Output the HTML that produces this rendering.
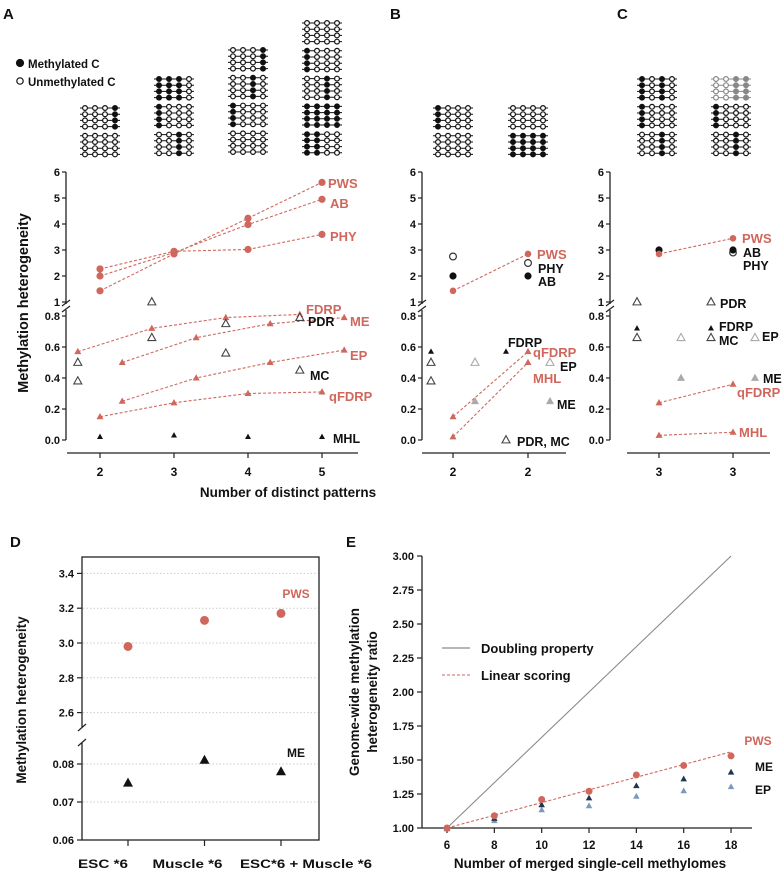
<!DOCTYPE html>
<html><head><meta charset="utf-8"><style>
html,body{margin:0;padding:0;background:#fff;}
svg{display:block;font-family:"Liberation Sans",Arial,sans-serif;font-weight:bold;}
</style></head><body>
<svg id="fig" width="784" height="874" viewBox="0 0 784 874" xmlns="http://www.w3.org/2000/svg">
<g id="static"></g>
</svg>
<script>
// ===== Panel A data =====
const aX = [2, 3, 4, 5];
const aPWS = [1.43, 2.85, 4.22, 5.6];
const aAB = [2.0, 2.9, 3.98, 4.95];
const aPHY = [2.27, 2.95, 3.02, 3.6];
const aFDRP = [0.57, 0.72, 0.79, 0.81];
const aME = [0.50, 0.66, 0.75, 0.79];
const aEP = [0.25, 0.40, 0.50, 0.58];
const aQFDRP = [0.15, 0.24, 0.30, 0.31];
const aPDR = [0.50, 1.0, 0.75, 0.79];
const aMC = [0.38, 0.66, 0.56, 0.45];
const aMHL = [0.02, 0.03, 0.02, 0.02];
// ===== Panel B data (two categories) =====
const bOpen = [2.75, 2.5];
const bFilled = [2.0, 2.0];
const bPWS = [1.43, 2.85];
const bFDRP = [0.57, 0.57];
const bPDRMC = [0.50, 0.0];
const bMCleft = [0.38, null];
const bEP = [0.50, 0.50];
const bME = [0.25, 0.25];
const bQFDRP = [0.15, 0.57];
const bMHL = [0.02, 0.50];
// ===== Panel C data =====
const cFilled = [3.0, 3.0];
const cOpen = [null, 2.9];
const cPWS = [2.85, 3.45];
const cPDR = [1.0, 1.0];
const cFDRP = [0.72, 0.72];
const cMC = [0.66, 0.66];
const cEP = [0.66, 0.66];
const cME = [0.40, 0.40];
const cQFDRP = [0.24, 0.36];
const cMHL = [0.03, 0.05];
// ===== Panel D data =====
const dCats = ["ESC *6", "Muscle *6", "ESC*6 + Muscle *6"];
const dPWS = [2.98, 3.13, 3.17];
const dME = [0.075, 0.081, 0.078];
const dUpperTicks = [2.6, 2.8, 3.0, 3.2, 3.4];
const dLowerTicks = [0.06, 0.07, 0.08];
// ===== Panel E data =====
const eX = [6, 8, 10, 12, 14, 16, 18];
const ePWS = [1.0, 1.09, 1.21, 1.27, 1.39, 1.46, 1.53];
const eME = [1.0, 1.07, 1.17, 1.22, 1.31, 1.36, 1.41];
const eEP = [1.0, 1.06, 1.14, 1.17, 1.24, 1.28, 1.31];
const eYTicks = [1.00, 1.25, 1.50, 1.75, 2.00, 2.25, 2.50, 2.75, 3.00];
const eDoubling = [1, 3];
const eLinear = [1, 1.56];

const RED = "#d0675c", NS = "http://www.w3.org/2000/svg";
const svg = document.getElementById('fig');
function mk(tag, attrs, parent, name, inter) {
  const e = document.createElementNS(NS, tag);
  for (const k in attrs) e.setAttribute(k, attrs[k]);
  
  
  (parent || svg).appendChild(e);
  return e;
}
function txt(x, y, s, size, fill, anchor, name, extra) {
  const t = mk('text', Object.assign({x: x, y: y, 'font-size': size, fill: fill || '#111', 'text-anchor': anchor || 'start'}, extra || {}), svg, name, false);
  t.textContent = s;
  return t;
}
function line(x1, y1, x2, y2, stroke, w, dash, name) {
  const a = {x1: x1, y1: y1, x2: x2, y2: y2, stroke: stroke, 'stroke-width': w};
  if (dash) a['stroke-dasharray'] = dash;
  return mk('line', a, svg, name, false);
}
function circ(cx, cy, r, fill, stroke, name) {
  return mk('circle', {cx: cx, cy: cy, r: r, fill: fill, stroke: stroke || 'none', 'stroke-width': 1.2}, svg, name, false);
}
function tri(cx, cy, s, fill, stroke, name) {
  const h = s * 0.9;
  return mk('polygon', {points: `${cx},${cy - h * 0.6} ${cx - s / 2},${cy + h * 0.4} ${cx + s / 2},${cy + h * 0.4}`, fill: fill, stroke: stroke || 'none', 'stroke-width': 1.1}, svg, name, false);
}
function dashed(pts, color, name) {
  return mk('polyline', {points: pts.map(p => p.join(',')).join(' '), fill: 'none', stroke: color, 'stroke-width': 1.1, 'stroke-dasharray': '3,2'}, svg, name, false);
}

const yU = v => 172 + (6 - v) * 26;
const yL = v => 440 - v * 155;
const yAny = v => v >= 1 ? yU(v) : yL(v);
const xA = v => 100 + (v - 2) * 74;
const xB = i => 453 + i * 75;
const xC = i => 659 + i * 74;

function brokenAxis(ax, x0, x1, ticksX, labelsX, prefix) {
  line(ax, 172, ax, 304, '#222', 1.3, null, prefix + '-y-axis-upper');
  line(ax, 310, ax, 440, '#222', 1.3, null, prefix + '-y-axis-lower');
  line(ax - 4, 306, ax + 4, 300, '#222', 1.2, null, prefix + '-axis-break');
  line(ax - 4, 312, ax + 4, 306, '#222', 1.2, null, prefix + '-axis-break');
  [1, 2, 3, 4, 5, 6].forEach(v => {
    line(ax - 4, yU(v), ax, yU(v), '#222', 1.2, null, prefix + '-y-tick');
    txt(ax - 6, yU(v) + 4, String(v), 11, '#111', 'end', prefix + '-y-tick-label');
  });
  [0, 0.2, 0.4, 0.6, 0.8].forEach(v => {
    line(ax - 4, yL(v), ax, yL(v), '#222', 1.2, null, prefix + '-y-tick');
    txt(ax - 6, yL(v) + 4, v.toFixed(1), 11, '#111', 'end', prefix + '-y-tick-label');
  });
  line(x0, 453, x1, 453, '#222', 1.3, null, prefix + '-x-axis');
  ticksX.forEach((x, i) => {
    line(x, 453, x, 458, '#222', 1.2, null, prefix + '-x-tick');
    txt(x, 476, labelsX[i], 12, '#111', 'middle', prefix + '-x-tick-label');
  });
}

function pattern(cx, top, blocks, prefix) {
  let y = top;
  blocks.forEach((b) => {
    const col = b.gray ? '#888' : '#111';
    for (let r = 0; r < 4; r++) {
      line(cx - 20, y, cx + 20, y, col, 1, null, prefix + '-read-line');
      for (let k = 0; k < 4; k++) {
        const m = b.p[k] === '1';
        circ(cx - 15 + k * 10, y, 2.4, m ? col : '#fff', col, prefix + (m ? '-methylated-c' : '-unmethylated-c'));
      }
      y += 6.2;
    }
    y += 3;
  });
}
pattern(100, 108, [{p: '0001'}, {p: '0000'}], 'pattern-a2');
pattern(174, 79, [{p: '1110'}, {p: '1000'}, {p: '0010'}], 'pattern-a3');
pattern(248, 50, [{p: '0001'}, {p: '0010'}, {p: '1000'}, {p: '0000'}], 'pattern-a4');
pattern(322, 23, [{p: '0000'}, {p: '1000'}, {p: '0010'}, {p: '1111'}, {p: '1100'}], 'pattern-a5');
pattern(453, 108, [{p: '1000'}, {p: '0000'}], 'pattern-b1');
pattern(528, 108, [{p: '0000'}, {p: '1111'}], 'pattern-b2');
pattern(657, 79, [{p: '1010'}, {p: '1000'}, {p: '0010'}], 'pattern-c1');
pattern(731, 79, [{p: '0011', gray: true}, {p: '1000'}, {p: '0010'}], 'pattern-c2');

circ(20, 63, 3.5, '#111', '#111', 'legend-methylated-marker');
txt(28, 68, 'Methylated C', 11.5, '#111', 'start', 'legend-methylated-label');
circ(20, 81, 3.2, '#fff', '#111', 'legend-unmethylated-marker');
txt(28, 86, 'Unmethylated C', 11.5, '#111', 'start', 'legend-unmethylated-label');

txt(3, 19, 'A', 15, '#111', 'start', 'panel-label-a');
txt(390, 19, 'B', 15, '#111', 'start', 'panel-label-b');
txt(617, 19, 'C', 15, '#111', 'start', 'panel-label-c');
txt(10, 547, 'D', 15, '#111', 'start', 'panel-label-d');
txt(346, 547, 'E', 15, '#111', 'start', 'panel-label-e');

// ===== Panel A =====
brokenAxis(66, 67, 358, aX.map(xA), aX.map(String), 'panel-a');
txt(28, 303, 'Methylation heterogeneity', 14.5, '#111', 'middle', 'panel-a-y-axis-title', {transform: 'rotate(-90 28 303)'});
txt(288, 497, 'Number of distinct patterns', 13.5, '#111', 'middle', 'x-axis-title-abc');
[[aPWS, 'pws'], [aAB, 'ab'], [aPHY, 'phy']].forEach(([s, n]) => {
  dashed(aX.map((x, i) => [xA(x), yU(s[i])]), RED, 'panel-a-' + n + '-line');
  aX.forEach((x, i) => circ(xA(x), yU(s[i]), 3.6, RED, null, 'panel-a-' + n + '-point'));
});
[[aFDRP, -0.3, 'fdrp'], [aME, 0.3, 'me'], [aEP, 0.3, 'ep'], [aQFDRP, 0, 'qfdrp']].forEach(([s, off, n]) => {
  dashed(aX.map((x, i) => [xA(x + off), yL(s[i])]), RED, 'panel-a-' + n + '-line');
  aX.forEach((x, i) => tri(xA(x + off), yL(s[i]), 7, RED, null, 'panel-a-' + n + '-point'));
});
aX.forEach((x, i) => {
  tri(xA(x - 0.3), yAny(aPDR[i]), 8, '#fff', '#444', 'panel-a-pdr-point');
  tri(xA(x - 0.3), yL(aMC[i]), 8, '#fff', '#444', 'panel-a-mc-point');
  tri(xA(x), yL(aMHL[i]), 6, '#111', null, 'panel-a-mhl-point');
});
txt(328, 188, 'PWS', 13, RED, 'start', 'panel-a-label-pws');
txt(330, 208, 'AB', 13, RED, 'start', 'panel-a-label-ab');
txt(330, 241, 'PHY', 13, RED, 'start', 'panel-a-label-phy');
txt(306, 314, 'FDRP', 13, RED, 'start', 'panel-a-label-fdrp');
txt(308, 326, 'PDR', 12.5, '#111', 'start', 'panel-a-label-pdr');
txt(350, 326, 'ME', 13, RED, 'start', 'panel-a-label-me');
txt(350, 360, 'EP', 13, RED, 'start', 'panel-a-label-ep');
txt(310, 380, 'MC', 12.5, '#111', 'start', 'panel-a-label-mc');
txt(329, 401, 'qFDRP', 13, RED, 'start', 'panel-a-label-qfdrp');
txt(333, 443, 'MHL', 12.5, '#111', 'start', 'panel-a-label-mhl');

// ===== Panel B =====
brokenAxis(422, 422, 566, [0, 1].map(xB), ['2', '2'], 'panel-b');
dashed([0, 1].map(i => [xB(i), yU(bPWS[i])]), RED, 'panel-b-pws-line');
[0, 1].forEach(i => {
  circ(xB(i), yU(bOpen[i]), 3.4, '#fff', '#333', 'panel-b-open-circle');
  circ(xB(i), yU(bFilled[i]), 3.6, '#111', null, 'panel-b-filled-circle');
  circ(xB(i), yU(bPWS[i]), 3.3, RED, null, 'panel-b-pws-point');
  tri(xB(i) - 22, yL(bFDRP[i]), 6, '#111', null, 'panel-b-fdrp-point');
  tri(xB(i) - 22, yL(bPDRMC[i]), 8, '#fff', '#444', 'panel-b-pdr-point');
  if (bMCleft[i] !== null) tri(xB(i) - 22, yL(bMCleft[i]), 8, '#fff', '#444', 'panel-b-mc-point');
  tri(xB(i) + 22, yL(bEP[i]), 8, '#fff', '#aaa', 'panel-b-ep-point');
  tri(xB(i) + 22, yL(bME[i]), 8, '#aaa', null, 'panel-b-me-point');
});
dashed([0, 1].map(i => [xB(i), yL(bQFDRP[i])]), RED, 'panel-b-qfdrp-line');
dashed([0, 1].map(i => [xB(i), yL(bMHL[i])]), RED, 'panel-b-mhl-line');
[0, 1].forEach(i => {
  tri(xB(i), yL(bQFDRP[i]), 7, RED, null, 'panel-b-qfdrp-point');
  tri(xB(i), yL(bMHL[i]), 7, RED, null, 'panel-b-mhl-point');
});
txt(537, 259, 'PWS', 13, RED, 'start', 'panel-b-label-pws');
txt(538, 273, 'PHY', 12.5, '#111', 'start', 'panel-b-label-phy');
txt(538, 286, 'AB', 12.5, '#111', 'start', 'panel-b-label-ab');
txt(508, 347, 'FDRP', 12.5, '#111', 'start', 'panel-b-label-fdrp');
txt(533, 357, 'qFDRP', 13, RED, 'start', 'panel-b-label-qfdrp');
txt(560, 371, 'EP', 12.5, '#111', 'start', 'panel-b-label-ep');
txt(533, 383, 'MHL', 13, RED, 'start', 'panel-b-label-mhl');
txt(557, 409, 'ME', 12.5, '#111', 'start', 'panel-b-label-me');
txt(517, 446, 'PDR, MC', 12.5, '#111', 'start', 'panel-b-label-pdr-mc');

// ===== Panel C =====
brokenAxis(610, 627, 770, [0, 1].map(xC), ['3', '3'], 'panel-c');
dashed([0, 1].map(i => [xC(i), yU(cPWS[i])]), RED, 'panel-c-pws-line');
[0, 1].forEach(i => {
  if (cOpen[i] !== null) circ(xC(i), yU(cOpen[i]), 3.3, '#fff', '#333', 'panel-c-open-circle');
  circ(xC(i), yU(cFilled[i]), 3.6, '#111', null, 'panel-c-filled-circle');
  circ(xC(i), yU(cPWS[i]), 3.3, RED, null, 'panel-c-pws-point');
  tri(xC(i) - 22, yAny(cPDR[i]), 8, '#fff', '#444', 'panel-c-pdr-point');
  tri(xC(i) - 22, yL(cFDRP[i]), 6, '#111', null, 'panel-c-fdrp-point');
  tri(xC(i) - 22, yL(cMC[i]), 8, '#fff', '#444', 'panel-c-mc-point');
  tri(xC(i) + 22, yL(cEP[i]), 8, '#fff', '#aaa', 'panel-c-ep-point');
  tri(xC(i) + 22, yL(cME[i]), 8, '#aaa', null, 'panel-c-me-point');
});
dashed([0, 1].map(i => [xC(i), yL(cQFDRP[i])]), RED, 'panel-c-qfdrp-line');
dashed([0, 1].map(i => [xC(i), yL(cMHL[i])]), RED, 'panel-c-mhl-line');
[0, 1].forEach(i => {
  tri(xC(i), yL(cQFDRP[i]), 7, RED, null, 'panel-c-qfdrp-point');
  tri(xC(i), yL(cMHL[i]), 7, RED, null, 'panel-c-mhl-point');
});
txt(742, 243, 'PWS', 13, RED, 'start', 'panel-c-label-pws');
txt(743, 257, 'AB', 12.5, '#111', 'start', 'panel-c-label-ab');
txt(743, 270, 'PHY', 12.5, '#111', 'start', 'panel-c-label-phy');
txt(720, 308, 'PDR', 12.5, '#111', 'start', 'panel-c-label-pdr');
txt(719, 331, 'FDRP', 12.5, '#111', 'start', 'panel-c-label-fdrp');
txt(719, 345, 'MC', 12.5, '#111', 'start', 'panel-c-label-mc');
txt(762, 341, 'EP', 12.5, '#111', 'start', 'panel-c-label-ep');
txt(763, 383, 'ME', 12.5, '#111', 'start', 'panel-c-label-me');
txt(737, 397, 'qFDRP', 13, RED, 'start', 'panel-c-label-qfdrp');
txt(739, 437, 'MHL', 13, RED, 'start', 'panel-c-label-mhl');

// ===== Panel D =====
const dx = i => 128 + i * 76.5;
const dyU = v => 643 - (v - 3.0) * 174;
const dyL = v => 840 - (v - 0.06) * 3800;
const dLabelShift = [-25, -17, 25];
const dLabelWidth = [50, 70, 132];
mk('rect', {x: 82, y: 557, width: 237, height: 283, fill: 'none', stroke: '#222', 'stroke-width': 1.3}, svg, 'panel-d-frame', false);
mk('rect', {x: 76, y: 727, width: 12, height: 16, fill: '#fff'}, svg, 'panel-d-break-gap', false);
line(78, 731, 86, 724, '#222', 1.2, null, 'panel-d-axis-break');
line(78, 746, 86, 739, '#222', 1.2, null, 'panel-d-axis-break');
dUpperTicks.forEach(v => {
  line(83, dyU(v), 318, dyU(v), '#ccc', 1, '1.5,2', 'panel-d-gridline');
  line(77, dyU(v), 82, dyU(v), '#222', 1.2, null, 'panel-d-y-tick');
  txt(74, dyU(v) + 4, v.toFixed(1), 11, '#111', 'end', 'panel-d-y-tick-label');
});
dLowerTicks.forEach(v => {
  if (v > 0.06) line(83, dyL(v), 318, dyL(v), '#ccc', 1, '1.5,2', 'panel-d-gridline');
  line(77, dyL(v), 82, dyL(v), '#222', 1.2, null, 'panel-d-y-tick');
  txt(74, dyL(v) + 4, v.toFixed(2), 11, '#111', 'end', 'panel-d-y-tick-label');
});
dCats.forEach((c, i) => {
  line(dx(i), 840, dx(i), 846, '#222', 1.2, null, 'panel-d-x-tick');
  txt(dx(i) + dLabelShift[i], 868, c, 12, '#111', 'middle', 'panel-d-x-tick-label', {textLength: dLabelWidth[i], lengthAdjust: 'spacingAndGlyphs'});
  circ(dx(i), dyU(dPWS[i]), 4.5, RED, null, 'panel-d-pws-point');
  tri(dx(i), dyL(dME[i]), 10, '#111', null, 'panel-d-me-point');
});
txt(26, 700, 'Methylation heterogeneity', 13.5, '#111', 'middle', 'panel-d-y-axis-title', {transform: 'rotate(-90 26 700)'});
txt(296, 598, 'PWS', 12, RED, 'middle', 'panel-d-label-pws');
txt(296, 757, 'ME', 12, '#111', 'middle', 'panel-d-label-me');

// ===== Panel E =====
const ex = v => 447 + (v - 6) * 23.67;
const ey = v => 828 - (v - 1) * 136;
line(422, 556, 422, 828, '#222', 1.3, null, 'panel-e-y-axis');
line(422, 828, 752, 828, '#222', 1.3, null, 'panel-e-x-axis');
eYTicks.forEach(v => {
  line(417, ey(v), 422, ey(v), '#222', 1.2, null, 'panel-e-y-tick');
  txt(414, ey(v) + 4, v.toFixed(2), 11, '#111', 'end', 'panel-e-y-tick-label');
});
eX.forEach(v => {
  line(ex(v), 828, ex(v), 833, '#222', 1.2, null, 'panel-e-x-tick');
  txt(ex(v), 849, String(v), 11.5, '#111', 'middle', 'panel-e-x-tick-label');
});
line(ex(6), ey(eDoubling[0]), ex(18), ey(eDoubling[1]), '#8a8a8a', 1.1, null, 'doubling-property-line');
line(ex(6), ey(eLinear[0]), ex(18), ey(eLinear[1]), RED, 1.1, '3,2', 'linear-scoring-line');
eX.forEach((v, i) => {
  tri(ex(v), ey(eEP[i]) + 1, 6.5, '#7d98bd', null, 'panel-e-ep-point');
  tri(ex(v), ey(eME[i]), 6.5, '#203650', null, 'panel-e-me-point');
  circ(ex(v), ey(ePWS[i]), 3.5, RED, null, 'panel-e-pws-point');
});
line(442, 648, 470, 648, '#8a8a8a', 1.2, null, 'legend-doubling-swatch');
txt(481, 653, 'Doubling property', 13, '#111', 'start', 'legend-doubling-label');
line(442, 675, 470, 675, RED, 1.1, '3,2', 'legend-linear-swatch');
txt(481, 680, 'Linear scoring', 13, '#111', 'start', 'legend-linear-label');
txt(758, 745, 'PWS', 12, RED, 'middle', 'panel-e-label-pws');
txt(755, 771, 'ME', 12, '#111', 'start', 'panel-e-label-me');
txt(755, 794, 'EP', 12, '#111', 'start', 'panel-e-label-ep');
txt(359, 692, 'Genome-wide methylation', 13.5, '#111', 'middle', 'panel-e-y-axis-title-line1', {transform: 'rotate(-90 359 692)'});
txt(377, 692, 'heterogeneity ratio', 13.5, '#111', 'middle', 'panel-e-y-axis-title-line2', {transform: 'rotate(-90 377 692)'});
txt(590, 868, 'Number of merged single-cell methylomes', 13.5, '#111', 'middle', 'panel-e-x-axis-title');
</script>
</body></html>
